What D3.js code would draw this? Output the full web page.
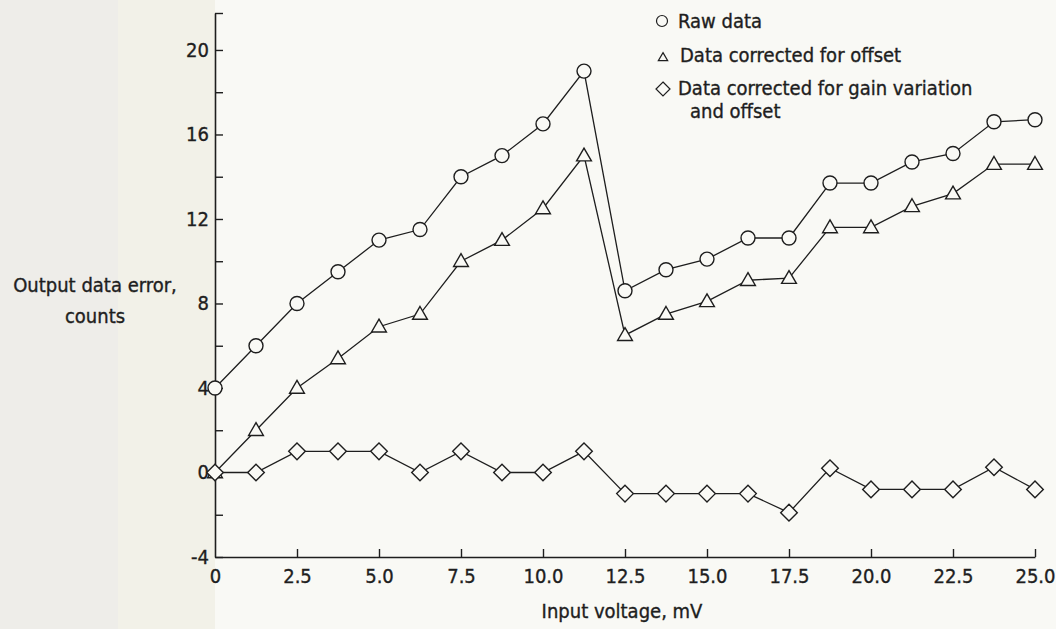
<!DOCTYPE html>
<html>
<head>
<meta charset="utf-8">
<script src="https://cdn.jsdelivr.net/npm/d3@7"></script>
<style>
  html, body { margin: 0; padding: 0; background: #f9f9f5; }
  svg { display: block; }
  text { font-family: "DejaVu Sans Condensed", "Liberation Sans Narrow", sans-serif; fill: #1e1e1e; stroke: #1e1e1e; stroke-width: 0.35px; }
</style>
</head>
<body>
<div id="chart"></div>
<script>
// Input voltage, mV
const voltage = [0, 1.25, 2.5, 3.75, 5.0, 6.25, 7.5, 8.75, 10.0, 11.25, 12.5,
  13.75, 15.0, 16.25, 17.5, 18.75, 20.0, 21.25, 22.5, 23.75, 25.0];

// Output data error, counts
const rawData = [4, 6, 8, 9.5, 11, 11.5, 14, 15, 16.5, 19, 8.6,
  9.6, 10.1, 11.1, 11.1, 13.7, 13.7, 14.7, 15.1, 16.6, 16.7];
const offsetCorrected = [0, 2, 4, 5.4, 6.9, 7.5, 10, 11, 12.5, 15, 6.5,
  7.5, 8.1, 9.1, 9.2, 11.6, 11.6, 12.6, 13.2, 14.6, 14.6];
const gainOffsetCorrected = [0, 0, 1, 1, 1, 0, 1, 0, 0, 1, -1,
  -1, -1, -1, -1.9, 0.2, -0.8, -0.8, -0.8, 0.25, -0.8];

const xTicks = [0, 2.5, 5.0, 7.5, 10.0, 12.5, 15.0, 17.5, 20.0, 22.5, 25.0];
const yTicks = [-4, -2, 0, 2, 4, 6, 8, 10, 12, 14, 16, 18, 20];
const yLabelled = [-4, 0, 4, 8, 12, 16, 20];

const legendLabels = [
  ["Raw data"],
  ["Data corrected for offset"],
  ["Data corrected for gain variation", "and offset"]
];

const W = 1056, H = 629;
const ink = "#1e1e1e";
const paper = "#f9f9f5";

const svg = d3.select("#chart").append("svg")
  .attr("width", W).attr("height", H);

// scanned-page tint on the left
svg.append("rect").attr("x", 0).attr("y", 0).attr("width", 118).attr("height", H)
  .attr("fill", "#eeede9");
svg.append("rect").attr("x", 118).attr("y", 0).attr("width", 97).attr("height", H)
  .attr("fill", "#f2f1e8");

const x = d3.scaleLinear().domain([0, 25]).range([215, 1035]);
const y = d3.scaleLinear().domain([-4, 21.75]).range([557, 13]);

// Y axis (ticks point inward)
const yAxis = svg.append("g")
  .attr("transform", `translate(${x(0)},0)`)
  .call(d3.axisLeft(y)
    .tickValues(yTicks.concat([21.75]))
    .tickSizeInner(-8).tickSizeOuter(0).tickPadding(4)
    .tickFormat(d => yLabelled.includes(d) ? String(d) : ""));
yAxis.select(".domain").attr("stroke", ink).attr("stroke-width", 1.6);
yAxis.selectAll(".tick line").attr("stroke", ink).attr("stroke-width", 1.4);
yAxis.selectAll(".tick text").attr("font-size", 20).attr("fill", ink)
  .attr("font-family", null).attr("x", -6);

// X axis (ticks point up)
const xAxis = svg.append("g")
  .attr("transform", `translate(0,${y(-4)})`)
  .call(d3.axisBottom(x)
    .tickValues(xTicks)
    .tickSizeInner(-8).tickSizeOuter(0).tickPadding(12)
    .tickFormat(d => d === 0 ? "0" : d3.format(".1f")(d)));
xAxis.select(".domain").attr("stroke", ink).attr("stroke-width", 1.6);
xAxis.selectAll(".tick line").attr("stroke", ink).attr("stroke-width", 1.4)
  .attr("opacity", d => d === 0 ? 0 : 1);
xAxis.selectAll(".tick text").attr("font-size", 20).attr("fill", ink)
  .attr("font-family", null);

// axis titles
svg.append("text").attr("x", 622).attr("y", 618).attr("text-anchor", "middle")
  .attr("font-size", 20).text("Input voltage, mV");
svg.append("text").attr("x", 95).attr("y", 292).attr("text-anchor", "middle")
  .attr("font-size", 20).text("Output data error,");
svg.append("text").attr("x", 95).attr("y", 323).attr("text-anchor", "middle")
  .attr("font-size", 20).text("counts");

// marker shapes
const circleSym = d3.symbol().type(d3.symbolCircle);
const triSym = d3.symbol().type(d3.symbolTriangle);
const diamondPath = s => `M0,${-s}L${s},0L0,${s}L${-s},0Z`;

const series = [
  { values: rawData, path: () => circleSym.size(Math.PI * 7 * 7)(), dy: 0 },
  { values: offsetCorrected, path: () => triSym.size(95)(), dy: 1 },
  { values: gainOffsetCorrected, path: () => diamondPath(8.3), dy: 0 }
];

const line = d3.line().x(d => x(d[0])).y(d => y(d[1]));

series.forEach(s => {
  const pts = voltage.map((v, i) => [v, s.values[i]]);
  svg.append("path").datum(pts)
    .attr("d", line).attr("fill", "none")
    .attr("stroke", ink).attr("stroke-width", 1.3);
  svg.append("g").selectAll("path").data(pts).join("path")
    .attr("transform", d => `translate(${x(d[0])},${y(d[1]) + s.dy})`)
    .attr("d", s.path())
    .attr("fill", paper).attr("stroke", ink).attr("stroke-width", 1.4);
});

// legend
const legendMarks = [[662, 21], [663, 58], [663, 89]];
const legendText = [[678, 28], [680, 62], [678, 95]];
const legendPaths = [
  circleSym.size(Math.PI * 5.5 * 5.5)(),
  triSym.size(38)(),
  diamondPath(7)
];
legendMarks.forEach((m, i) => {
  svg.append("path").attr("transform", `translate(${m[0]},${m[1]})`)
    .attr("d", legendPaths[i]).attr("fill", paper)
    .attr("stroke", ink).attr("stroke-width", 1.2);
  legendLabels[i].forEach((t, j) => {
    svg.append("text")
      .attr("x", j === 0 ? legendText[i][0] : legendText[i][0] + 12)
      .attr("y", legendText[i][1] + j * 23)
      .attr("font-size", 20).text(t);
  });
});
</script>
</body>
</html>
